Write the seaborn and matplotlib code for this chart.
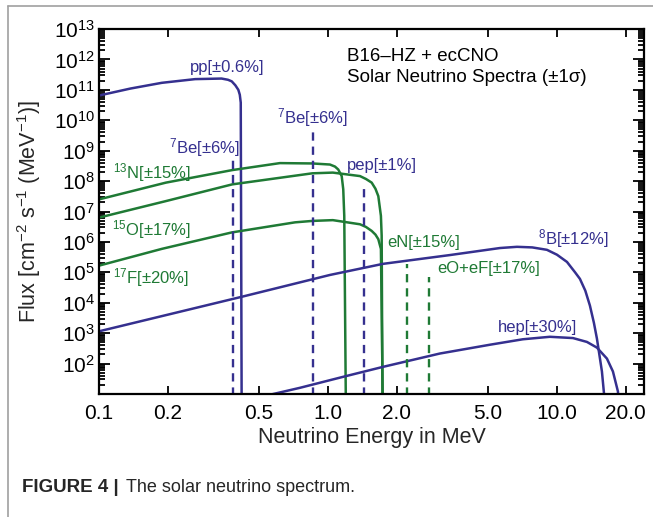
import numpy as np
import pandas as pd
import seaborn as sns
import matplotlib.pyplot as plt
from matplotlib.lines import Line2D
from matplotlib.ticker import FixedLocator, FixedFormatter, LogLocator, NullLocator, LogFormatterMathtext

BLUE = "#35308f"
GREEN = "#1f7a35"

# continuous spectra (E in MeV, flux in cm^-2 s^-1 MeV^-1)
# last point of each curve sits below the axis so the cutoff drops out of view
pp_E = [0.10, 0.137, 0.188, 0.263, 0.343, 0.366, 0.380, 0.394, 0.406, 0.412, 0.416, 0.420]
pp_F = [6.5e10, 1.1e11, 1.7e11, 2.25e11, 2.35e11, 2.14e11, 1.9e11, 1.41e11, 1.0e11, 6.9e10, 3.8e10, 1.0]

n13_E = [0.10, 0.196, 0.382, 0.617, 0.854, 1.02, 1.073, 1.109, 1.148, 1.166, 1.178, 1.199]
n13_F = [2.5e7, 8.9e7, 2.3e8, 3.9e8, 3.8e8, 3.5e8, 3.0e8, 2.4e8, 1.46e8, 5.4e7, 7.2e6, 1.0]

o15_E = [0.10, 0.196, 0.382, 0.854, 1.05, 1.38, 1.466, 1.552, 1.612, 1.659, 1.703, 1.716, 1.732]
o15_F = [6.3e6, 2.2e7, 7.8e7, 1.8e8, 1.9e8, 1.46e8, 1.17e8, 8.9e7, 5.6e7, 3.2e7, 7.2e6, 1.6e6, 1.0]

f17_E = [0.10, 0.188, 0.380, 0.718, 0.854, 1.05, 1.38, 1.466, 1.552, 1.612, 1.659, 1.703, 1.74]
f17_F = [1.66e5, 5.9e5, 2.05e6, 4.4e6, 4.9e6, 5.2e6, 3.8e6, 3.1e6, 2.3e6, 1.74e6, 1.23e6, 5.9e5, 1.0]

b8_E = [0.10, 0.42, 1.02, 1.739, 3.41, 5.64, 6.69, 7.8, 9.04, 10.0, 11.06, 12.0, 12.6,
        13.3, 13.93, 14.5, 14.95, 15.72, 16.04, 16.2]
b8_F = [1.15e3, 1.57e4, 8.2e4, 1.9e5, 3.7e5, 6.3e5, 6.9e5, 6.6e5, 5.5e5, 3.8e5, 2.2e5,
        1.0e5, 6.1e4, 2.5e4, 8.1e3, 2.2e3, 6.6e2, 55, 11, 1.0]

hep_E = [0.56, 0.755, 1.186, 1.739, 3.08, 5.10, 7.10, 9.31, 11.75, 13.52, 14.95, 16.53, 17.56, 18.47, 18.77]
hep_F = [9.5, 16, 38, 78, 214, 417, 630, 760, 690, 515, 335, 146, 55, 12, 1.0]

# line sources (E in MeV, flux in cm^-2 s^-1)
line_E = [0.384, 0.862, 1.442, 2.220, 2.754]
line_F = [4.9e8, 4.4e9, 7.8e7, 1.9e5, 6.9e4]
line_src = ["Be7a", "Be7b", "pep", "eN", "eOeF"]

curves = {
    "pp": (pp_E, pp_F), "N13": (n13_E, n13_F), "O15": (o15_E, o15_F),
    "F17": (f17_E, f17_F), "B8": (b8_E, b8_F), "hep": (hep_E, hep_F),
}
rows = []
for name, (E, F) in curves.items():
    for e, f in zip(E, F):
        rows.append({"source": name, "E": e, "flux": f})
df = pd.DataFrame(rows)

palette = {"pp": BLUE, "B8": BLUE, "hep": BLUE, "N13": GREEN, "O15": GREEN, "F17": GREEN}
line_colors = {"Be7a": BLUE, "Be7b": BLUE, "pep": BLUE, "eN": GREEN, "eOeF": GREEN}

sns.set_theme(style="ticks")
plt.rcParams["font.family"] = ["Liberation Sans", "DejaVu Sans"]
plt.rcParams["mathtext.fontset"] = "custom"
plt.rcParams["mathtext.rm"] = "Liberation Sans"
plt.rcParams["mathtext.it"] = "Liberation Sans:italic"
plt.rcParams["mathtext.default"] = "regular"

fig = plt.figure(figsize=(6.53, 5.17), dpi=100)
ax = fig.add_axes([99 / 653, 1 - 394 / 517, 545 / 653, 365 / 517])

sns.lineplot(data=df, x="E", y="flux", hue="source", palette=palette,
             units="source", estimator=None, sort=False, legend=False,
             lw=1.8, ax=ax)

ax.vlines(line_E, 1.0, line_F, colors=[line_colors[s] for s in line_src],
          linestyles=[(0, (3.5, 2.5))], lw=1.7)

ax.set_xscale("log")
ax.set_yscale("log")
ax.set_xlim(0.1, 24)
ax.set_ylim(10, 1e13)

xt = [0.1, 0.2, 0.5, 1.0, 2.0, 5.0, 10.0, 20.0]
ax.xaxis.set_major_locator(FixedLocator(xt))
ax.xaxis.set_major_formatter(FixedFormatter(["0.1", "0.2", "0.5", "1.0", "2.0", "5.0", "10.0", "20.0"]))
ax.xaxis.set_minor_locator(NullLocator())
ax.yaxis.set_major_locator(FixedLocator([10.0 ** k for k in range(2, 14)]))
ax.yaxis.set_major_formatter(LogFormatterMathtext())
ax.yaxis.set_minor_locator(LogLocator(base=10, subs=np.arange(2, 10), numticks=100))

ax.tick_params(which="both", direction="in", top=True, right=True, width=1.3, colors="black")
ax.tick_params(axis="x", which="major", length=6, pad=7, labelsize=15)
ax.tick_params(axis="y", which="major", length=8, pad=3, labelsize=15)
ax.tick_params(axis="y", which="minor", length=4)
for sp in ax.spines.values():
    sp.set_linewidth(1.6)
    sp.set_color("black")

ax.set_xlabel("Neutrino Energy in MeV", fontsize=15.5, va="center")
ax.xaxis.set_label_coords(0.5, -0.12)
ax.set_ylabel("Flux [cm$^{-2}$ s$^{-1}$ (MeV$^{-1}$)]", fontsize=15.5, va="center")
ax.yaxis.set_label_coords(-0.129, 0.5)

lab = dict(fontsize=12, ha="left", va="center")
ax.text(0.2496, 5.4e11, "pp[±0.6%]", color=BLUE, **lab)
ax.text(0.202, 1.3e9, "$^{7}$Be[±6%]", color=BLUE, **lab)
ax.text(0.599, 1.22e10, "$^{7}$Be[±6%]", color=BLUE, **lab)
ax.text(1.21, 3.3e8, "pep[±1%]", color=BLUE, **lab)
ax.text(0.1155, 1.9e8, "$^{13}$N[±15%]", color=GREEN, **lab)
ax.text(0.1136, 2.6e6, "$^{15}$O[±17%]", color=GREEN, **lab)
ax.text(0.1155, 6.9e4, "$^{17}$F[±20%]", color=GREEN, **lab)
ax.text(1.81, 9.9e5, "eN[±15%]", color=GREEN, **lab)
ax.text(2.99, 1.29e5, "eO+eF[±17%]", color=GREEN, **lab)
ax.text(8.28, 1.3e6, "$^{8}$B[±12%]", color=BLUE, **lab)
ax.text(5.54, 1.5e3, "hep[±30%]", color=BLUE, **lab)

ax.text(0.4545, 0.925, "B16–HZ + ecCNO", transform=ax.transAxes,
        fontsize=13.5, ha="left", va="center", color="black")
ax.text(0.4545, 0.868, "Solar Neutrino Spectra (±1σ)", transform=ax.transAxes,
        fontsize=13.5, ha="left", va="center", color="black")

# frame lines and caption of the journal page
fig.add_artist(Line2D([8 / 653, 8 / 653], [0, 1 - 6 / 517], transform=fig.transFigure,
                      color="#a0a0a0", lw=1.2))
fig.add_artist(Line2D([8 / 653, 1], [1 - 6 / 517, 1 - 6 / 517], transform=fig.transFigure,
                      color="#a0a0a0", lw=1.2))
fig.text(22 / 653, 1 - 488 / 517, "FIGURE 4 |", fontsize=13.5, weight="bold", va="center")
fig.text(126 / 653, 1 - 488 / 517, "The solar neutrino spectrum.", fontsize=13, va="center")

fig.savefig("out.png", dpi=100)
